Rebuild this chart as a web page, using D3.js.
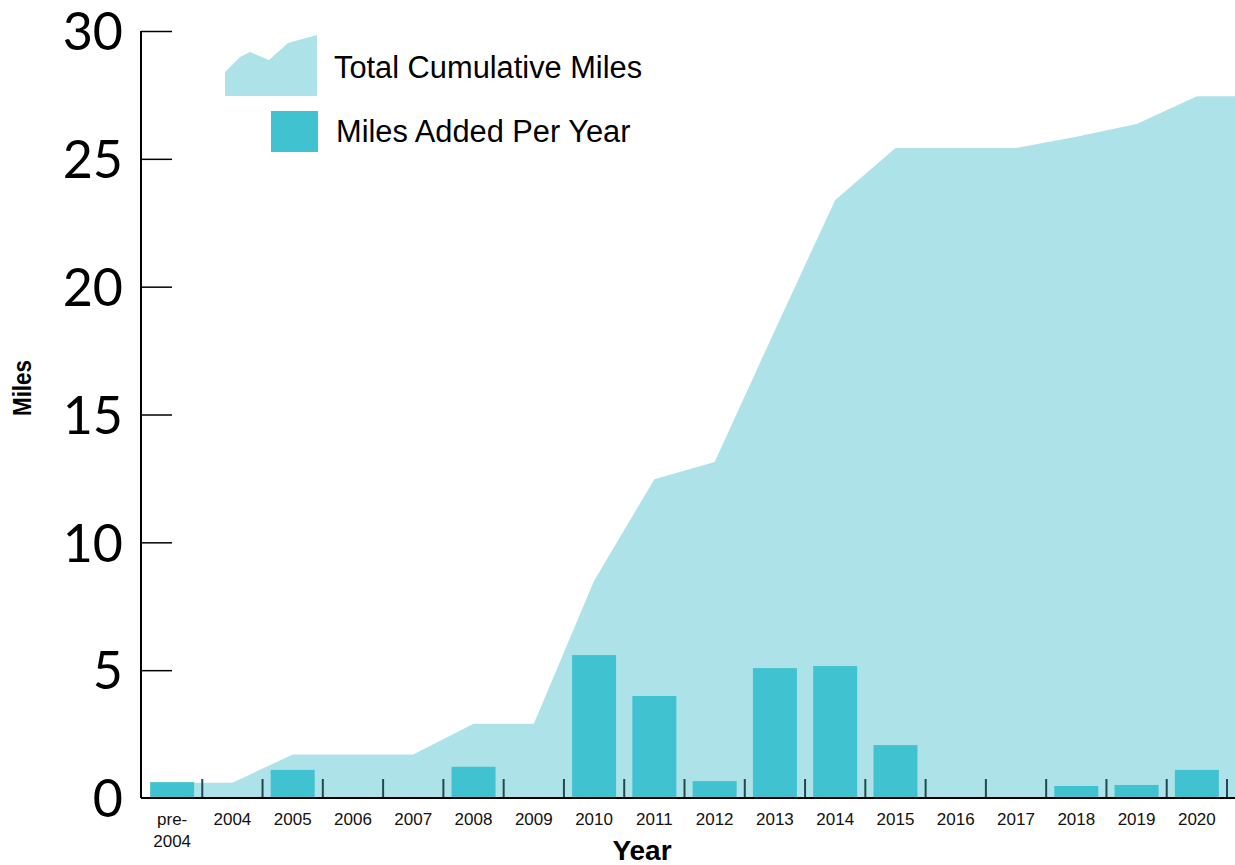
<!DOCTYPE html>
<html><head><meta charset="utf-8">
<script src="https://cdn.jsdelivr.net/npm/d3@7"></script>
<style>
html,body{margin:0;padding:0;background:#fff;}
svg{display:block;}
</style></head>
<body>
<script>
const categories = ["pre-2004","2004","2005","2006","2007","2008","2009","2010","2011","2012","2013","2014","2015","2016","2017","2018","2019","2020"];
const milesAdded = [0.62,0,1.1,0,0,1.22,0,5.59,3.99,0.66,5.08,5.16,2.07,0,0,0.47,0.51,1.1];
const cumulative = [0.6,0.6,1.7,1.7,1.7,2.9,2.9,8.5,12.47,13.14,18.3,23.39,25.42,25.42,25.42,25.86,26.36,27.45];
const yTicks = [0,5,10,15,20,25,30];

const W = 1235, H = 865;
const svg = d3.select("body").append("svg").attr("width", W).attr("height", H);

const x = d3.scaleBand().domain(categories).range([142,1227]).paddingInner(0.27).paddingOuter(0.135);
const y = d3.scaleLinear().domain([0,30]).range([798,31]);
const step = x.step();
const cx = d => x(d) + x.bandwidth()/2;

const areaColor = "#ade3e8", barColor = "#40c2d0";

// area
const pts = categories.map((c,i)=>[cx(c), cumulative[i]]);
pts.push([W, cumulative[cumulative.length-1]]);
svg.append("path")
  .attr("d", d3.area().x(d=>d[0]).y0(y(0)).y1(d=>y(d[1]))(pts))
  .attr("fill", areaColor);

// bars
svg.selectAll("rect.bar").data(categories.filter((c,i)=>milesAdded[i]>0)).join("rect")
  .attr("class","bar")
  .attr("x", d=>x(d)).attr("width", x.bandwidth())
  .attr("y", d=>y(milesAdded[categories.indexOf(d)]))
  .attr("height", d=>y(0)-y(milesAdded[categories.indexOf(d)]))
  .attr("fill", barColor);

// x boundary ticks
const bounds = categories.slice(1).map(c => x(c) - step*x.paddingInner()/2);
bounds.push(x(categories[categories.length-1]) + x.bandwidth() + step*x.paddingInner()/2);
svg.selectAll("line.xt").data(bounds).join("line")
  .attr("x1", d=>d).attr("x2", d=>d).attr("y1", y(0)-19).attr("y2", y(0))
  .attr("stroke", "#1f4a50").attr("stroke-width", 2);

// baseline
svg.append("line").attr("x1",141).attr("x2",W).attr("y1",y(0)).attr("y2",y(0))
  .attr("stroke","#000").attr("stroke-width",2);

// y axis
const yAxis = d3.axisRight(y).tickValues(yTicks).tickSize(31).tickFormat(d3.format("d"));
const ga = svg.append("g").attr("transform","translate(141,0)").call(yAxis);
ga.select(".domain").attr("stroke","#000").attr("stroke-width",2).attr("d", `M0,${y(30)}V${y(0)}`);
ga.selectAll(".tick line").attr("stroke","#000").attr("stroke-width",1.5);
ga.selectAll(".tick text")
  .attr("x", -18).attr("text-anchor","end").attr("dy","0.36em")
  .attr("font-family","Lato, sans-serif").attr("font-size",52).attr("fill","#000");
ga.selectAll(".tick").filter(d=>d===0).select("line").remove();

// x labels
const xl = svg.append("g").attr("font-family","'Liberation Sans', Arial, sans-serif").attr("font-size",17).attr("fill","#111");
categories.forEach(c=>{
  const t = xl.append("text").attr("x", cx(c)).attr("y", 825).attr("text-anchor","middle");
  if (c === "pre-2004") {
    t.append("tspan").attr("x", cx(c)).text("pre-");
    t.append("tspan").attr("x", cx(c)).attr("dy", 22).text("2004");
  } else t.text(c);
});

// axis titles
svg.append("text").attr("x",642).attr("y",860).attr("text-anchor","middle")
  .attr("font-family","'Liberation Sans', Arial, sans-serif").attr("font-weight","bold").attr("font-size",28).attr("fill","#000")
  .text("Year");
svg.append("text").attr("transform","translate(31,388) rotate(-90)").attr("text-anchor","middle")
  .attr("font-family","'Liberation Sans', Arial, sans-serif").attr("font-weight","bold").attr("font-size",26).attr("fill","#000")
  .attr("textLength",56).attr("lengthAdjust","spacingAndGlyphs")
  .text("Miles");

// legend
const lg = svg.append("g").attr("transform","translate(225,35)");
lg.append("path").attr("d","M0,61V37L15,22L25,17L44,25L63,8L92,0V61Z").attr("fill",areaColor);
lg.append("rect").attr("x",46).attr("y",76).attr("width",47).attr("height",41).attr("fill",barColor);
lg.append("text").attr("x",109).attr("y",43).attr("font-family","'Liberation Sans', Arial, sans-serif").attr("font-size",30.8).attr("fill","#000").text("Total Cumulative Miles");
lg.append("text").attr("x",111).attr("y",107).attr("font-family","'Liberation Sans', Arial, sans-serif").attr("font-size",30.8).attr("fill","#000").text("Miles Added Per Year");
</script>
</body></html>
